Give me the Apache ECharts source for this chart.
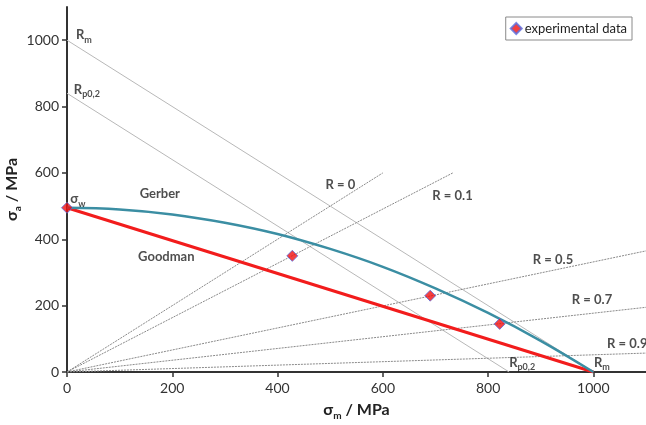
<!DOCTYPE html>
<html><head><meta charset="utf-8">
<script src="https://cdn.jsdelivr.net/npm/echarts@6/dist/echarts.min.js"></script>
<style>html,body{margin:0;padding:0;background:#fff;}#c{width:646px;height:425px;}</style>
</head><body><div id="c"></div>
<script>
const tickValues = [0, 200, 400, 600, 800, 1000];
const rmLine = [[0, 1000], [1000, 0]];
const rpLine = [[0, 840], [840, 0]];
const rLines = {
  'R = 0':   [[0, 0], [600, 600]],
  'R = 0.1': [[0, 0], [733, 600]],
  'R = 0.5': [[0, 0], [1100, 365]],
  'R = 0.7': [[0, 0], [1100, 195]],
  'R = 0.9': [[0, 0], [1100, 57]]
};
const goodman = [[0, 495], [1000, 0]];
const gerber = [[0, 495], [100, 490], [200, 475], [300, 450], [400, 416], [500, 371],
                [600, 317], [700, 252], [800, 178], [900, 94], [1000, 0]];
const experimental = [[428, 350], [690, 230], [822, 145]];
const sigmaW = [[0, 495]];
const labels = [
  ['{t|R}{s|m}', 17, 1012],
  ['{t|R}{s|p0,2}', 13, 847],
  ['{t|σ}{s|w}', 6, 518],
  ['Gerber', 138, 537],
  ['Goodman', 135, 347],
  ['R = 0', 491, 564],
  ['R = 0.1', 694, 531],
  ['R = 0.5', 885, 338],
  ['R = 0.7', 959, 217],
  ['R = 0.9', 1026, 84],
  ['{t|R}{s|p0,2}', 840, 24],
  ['{t|R}{s|m}', 1001, 24]
];

const FONT = 'Lato';
const subRich = {
  t: {fontFamily: FONT, fontSize: 13, fontWeight: 'bold', color: '#222', lineHeight: 16, verticalAlign: 'top'},
  s: {fontFamily: FONT, fontSize: 9, fontWeight: 'bold', color: '#222', lineHeight: 10, verticalAlign: 'bottom', padding: [9, 0, 0, 0]}
};
const nameRich = {
  b: {fontFamily: FONT, fontSize: 16, fontWeight: 'bold', color: '#222', lineHeight: 19, verticalAlign: 'top'},
  s: {fontFamily: FONT, fontSize: 10, fontWeight: 'bold', color: '#222', lineHeight: 11, verticalAlign: 'bottom', padding: [11, 0, 0, 0]}
};

const series = [];
series.push({type: 'line', data: rmLine, symbol: 'none', silent: true,
  lineStyle: {color: '#b8b8b8', width: 1}});
series.push({type: 'line', data: rpLine, symbol: 'none', silent: true,
  lineStyle: {color: '#b8b8b8', width: 1}});
Object.keys(rLines).forEach(k => series.push({type: 'line', data: rLines[k], symbol: 'none', silent: true,
  lineStyle: {color: '#8a8a8a', width: 1, type: [2, 1]}}));
series.push({type: 'line', name: 'Goodman', data: goodman, symbol: 'none',
  lineStyle: {color: '#f21c1c', width: 3}, z: 4});
series.push({type: 'line', name: 'Gerber', data: gerber, symbol: 'none', smooth: 0.4,
  lineStyle: {color: '#3b8ea3', width: 2.5}, z: 4});
series.push({type: 'scatter', name: 'experimental data', data: experimental, symbol: 'diamond', symbolSize: 11,
  itemStyle: {color: '#f01010', borderColor: '#5a6ee0', borderWidth: 1}, z: 6});
series.push({type: 'scatter', name: 'sw', data: sigmaW, symbol: 'diamond', symbolSize: 11,
  itemStyle: {color: '#f01010', borderColor: '#5a6ee0', borderWidth: 1}, z: 6});
series.push({type: 'scatter', name: 'labels', silent: true, symbolSize: 0, z: 7,
  data: labels.map(l => ({value: [l[1], l[2]], name: l[0]})),
  label: {show: true, position: 'right', distance: 0, formatter: p => p.name,
    fontFamily: FONT, fontSize: 13, fontWeight: 'bold', color: '#222', rich: subRich}});

const chart = echarts.init(document.getElementById('c'), null, {renderer: 'canvas'});
chart.setOption({
  animation: false,
  textStyle: {fontFamily: FONT},
  grid: {left: 67, right: 0, top: 7, bottom: 53, containLabel: false, outerBoundsMode: 'none'},
  legend: {
    data: ['experimental data'], right: 14, top: 17,
    borderColor: '#8a8a8a', borderWidth: 1, padding: [5, 5, 5, 4],
    itemWidth: 11, itemHeight: 11, itemGap: 4,
    textStyle: {fontFamily: FONT, fontSize: 13, color: '#222', padding: [0, 0, 0, -2]}
  },
  xAxis: {
    type: 'value', min: 0, max: 1100, interval: 200,
    name: '{b|σ}{s|m}{b| / MPa}', nameLocation: 'middle', nameGap: 29,
    nameTextStyle: {rich: nameRich},
    axisLine: {show: true, lineStyle: {color: '#333', width: 2}},
    axisTick: {show: true, inside: false, length: 5, lineStyle: {color: '#333', width: 1.5}, customValues: tickValues},
    axisLabel: {fontSize: 14, color: '#333', margin: 9, customValues: tickValues, formatter: v => String(v)},
    splitLine: {show: false}
  },
  yAxis: {
    type: 'value', min: 0, max: 1100, interval: 200,
    name: '{b|σ}{s|a}{b| / MPa}', nameLocation: 'middle', nameGap: 44, nameMoveOverlap: false,
    nameTextStyle: {rich: nameRich},
    axisLine: {show: true, lineStyle: {color: '#333', width: 2}},
    axisTick: {show: true, inside: false, length: 5, lineStyle: {color: '#333', width: 1.5}, customValues: tickValues},
    axisLabel: {fontSize: 14, color: '#333', margin: 8, customValues: tickValues, formatter: v => String(v)},
    splitLine: {show: false}
  },
  series: series
});
</script>
</body></html>
